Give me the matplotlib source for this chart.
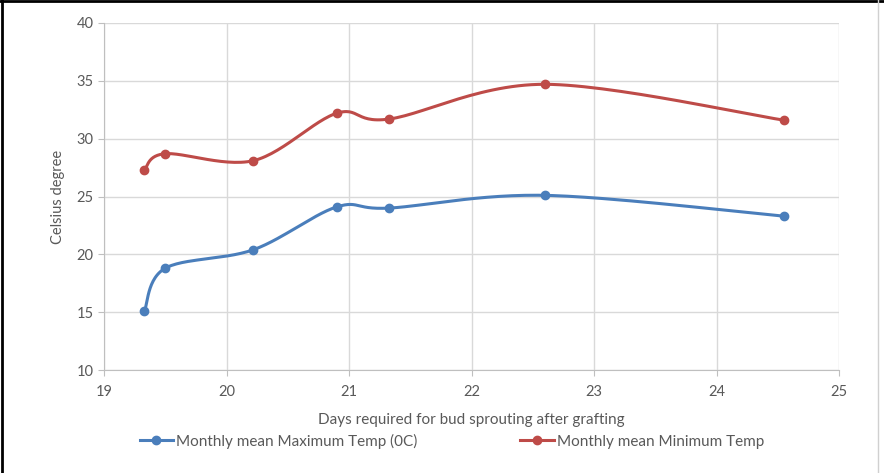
import matplotlib
matplotlib.use("Agg")
import matplotlib.pyplot as plt
import numpy as np

days = [19.33, 19.5, 20.22, 20.9, 21.33, 22.6, 24.55]
max_temp = [15.1, 18.8, 20.4, 24.1, 24.0, 25.1, 23.3]
min_temp = [27.3, 28.7, 28.1, 32.2, 31.7, 34.7, 31.6]
series_names = ["Monthly mean Maximum Temp (0C)", "Monthly mean Minimum Temp"]
colors = ["#4a7ebb", "#be4b48"]

plt.rcParams['font.family'] = ['Lato', 'DejaVu Sans']

def smooth(x, y, n=30):
    x = np.asarray(x, float); y = np.asarray(y, float)
    P = np.column_stack([x, y])
    out = []
    for i in range(len(P) - 1):
        p0 = P[i - 1] if i > 0 else P[i]
        p1 = P[i]; p2 = P[i + 1]
        p3 = P[i + 2] if i + 2 < len(P) else P[i + 1]
        c1 = p1 + (p2 - p0) / 6.0
        c2 = p2 - (p3 - p1) / 6.0
        t = np.linspace(0, 1, n)[:, None]
        seg = (1 - t) ** 3 * p1 + 3 * (1 - t) ** 2 * t * c1 + 3 * (1 - t) * t ** 2 * c2 + t ** 3 * p2
        out.append(seg if i == 0 else seg[1:])
    S = np.vstack(out)
    return S[:, 0], S[:, 1]

fig = plt.figure(figsize=(8.84, 4.73), dpi=100)
ax = fig.add_axes([104/884, 103/473, 735/884, 347/473])

handles = []
for ys, c, name in zip([max_temp, min_temp], colors, series_names):
    sx, sy = smooth(days, ys)
    ax.plot(sx, sy, color=c, lw=2.2, solid_capstyle='round', zorder=3)
    ax.plot(days, ys, 'o', color=c, ms=6, zorder=4)
    h, = ax.plot([], [], '-o', color=c, lw=2.2, ms=6, label=name)
    handles.append(h)

ax.set_xlim(19, 25)
ax.set_ylim(10, 40)
ax.set_xticks(np.arange(19, 26, 1))
ax.set_yticks(np.arange(10, 41, 5))
ax.grid(True, color='#d9d9d9', lw=1)
ax.set_axisbelow(True)
for s in ['top', 'right']:
    ax.spines[s].set_visible(False)
for s in ['left', 'bottom']:
    ax.spines[s].set_color('#bfbfbf')
ax.tick_params(axis='both', colors='#bfbfbf', labelcolor='#595959', labelsize=10.5, length=4)
ax.tick_params(axis='x', pad=7)
ax.set_xlabel("Days required for bud sprouting after grafting", fontsize=11, color='#595959', labelpad=10)
ax.set_ylabel("Celsius degree", fontsize=10.5, color='#595959', labelpad=8)

fig.legend(handles=handles, loc='center', bbox_to_anchor=(0.511, 32/473), ncol=2,
           frameon=False, fontsize=11, labelcolor='#595959', columnspacing=6.7,
           handlelength=2.2, handletextpad=0.2)

# outer frame
fig.add_artist(plt.Line2D([0, 1], [1 - 1.5/473, 1 - 1.5/473], color='black', lw=2, transform=fig.transFigure))
fig.add_artist(plt.Line2D([1.5/884, 1.5/884], [0, 1], color='black', lw=2, transform=fig.transFigure))
fig.add_artist(plt.Line2D([878/884, 878/884], [0, 1], color='#d0d0d0', lw=1, transform=fig.transFigure))

fig.savefig("out.png", dpi=100)
